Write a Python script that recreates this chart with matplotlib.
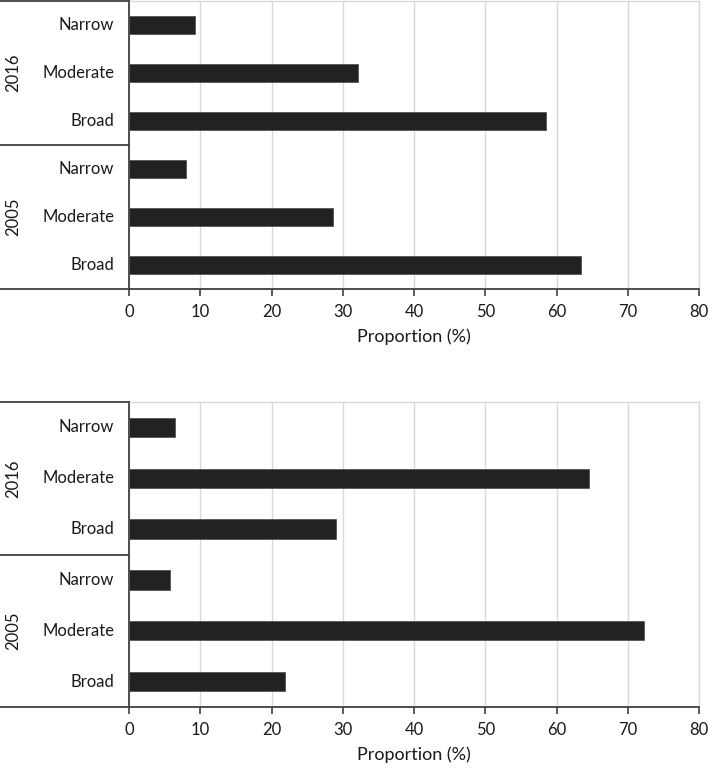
import matplotlib.pyplot as plt
import matplotlib.transforms as mtransforms

# categories and values (top-to-bottom order within each year)
categories = ["Narrow", "Moderate", "Broad"]
years = ["2016", "2005"]

top_2016 = [9.3, 32.1, 58.5]
top_2005 = [8.0, 28.7, 63.4]
bottom_2016 = [6.4, 64.6, 29.0]
bottom_2005 = [5.8, 72.3, 21.9]

xticks = [0, 10, 20, 30, 40, 50, 60, 70, 80]
xlabel = "Proportion (%)"

plt.rcParams['font.family'] = ['Lato', 'DejaVu Sans']

W, H = 709, 770
fig = plt.figure(figsize=(W / 100, H / 100), dpi=100)

text_col = "#1a1a1a"
bar_col = "#222222"
fs = 12


def panel(top_px, bottom_px, vals_2016, vals_2005):
    ax = fig.add_axes([129 / W, 1 - bottom_px / H, 570 / W, (bottom_px - top_px) / H])
    vals = list(vals_2016) + list(vals_2005)
    ypos = list(range(len(vals)))
    ax.barh(ypos, vals, height=0.38, color=bar_col, edgecolor="#555555", linewidth=0.6, zorder=3)
    ax.set_ylim(len(vals) - 0.5, -0.5)
    ax.set_xlim(0, 80)
    ax.set_xticks(xticks)
    ax.set_xticklabels([str(t) for t in xticks], fontsize=fs, color=text_col)
    ax.tick_params(axis="x", direction="out", length=5, width=1.2, color="#404040", pad=6)
    ax.set_yticks([])
    ax.grid(axis="x", color="#d9d9d9", linewidth=1, zorder=0)
    for s in ["top", "right"]:
        ax.spines[s].set_color("#d9d9d9")
        ax.spines[s].set_linewidth(1)
    for s in ["left", "bottom"]:
        ax.spines[s].set_color("#404040")
        ax.spines[s].set_linewidth(1.3)
    ax.set_xlabel(xlabel, fontsize=13, color=text_col, labelpad=6)

    # category labels
    trans = mtransforms.blended_transform_factory(fig.transFigure, ax.transData)
    labels = categories + categories
    for y, lab in zip(ypos, labels):
        ax.text(114 / W, y, lab, transform=trans, ha="right", va="center",
                fontsize=fs, color=text_col)
    # year group labels and separators
    n = len(categories)
    for i, yr in enumerate(years):
        mid = i * n + (n - 1) / 2
        ax.text(13 / W, mid, yr, transform=trans, ha="center", va="center",
                rotation=90, fontsize=fs, color=text_col)
    for yb in [-0.5, n - 0.5, 2 * n - 0.5]:
        ax.plot([0, 129 / W], [yb, yb], transform=trans, color="#404040",
                linewidth=1.3, clip_on=False, zorder=5)
    return ax


panel(1, 289, top_2016, top_2005)
panel(402, 707, bottom_2016, bottom_2005)

fig.savefig("out.png", dpi=100)
